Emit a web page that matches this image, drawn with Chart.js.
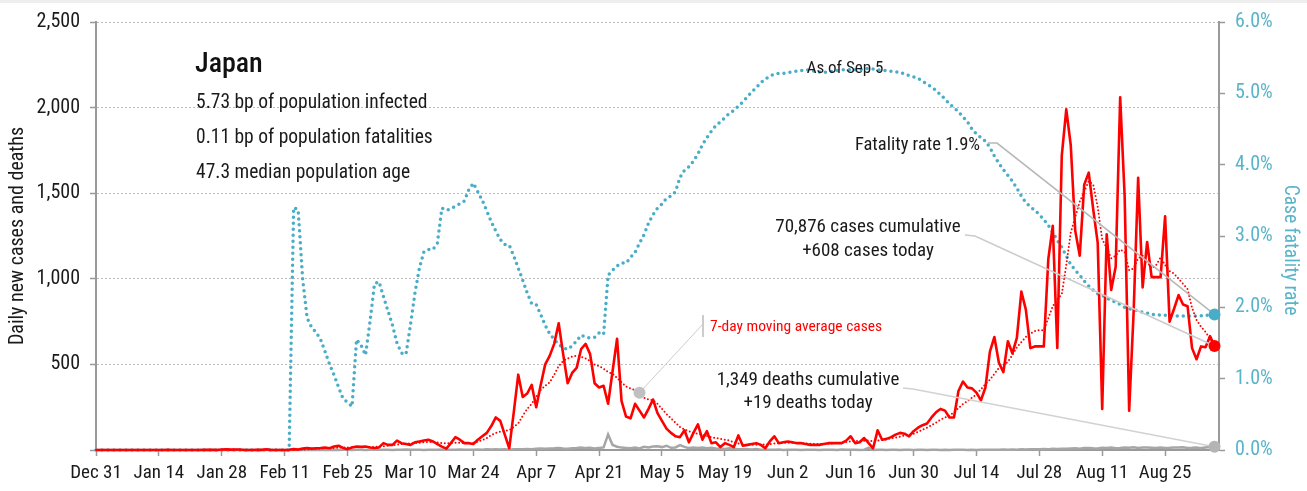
<!DOCTYPE html>
<html><head><meta charset="utf-8">
<script src="https://cdn.jsdelivr.net/npm/chart.js@4/dist/chart.umd.min.js"></script>
<style>
html,body{margin:0;padding:0;background:#fff;}
#wrap{position:relative;width:1307px;height:491px;}
#strip{position:absolute;left:0;top:0;width:1307px;height:3px;background:#eeeeee;}
canvas{display:block;}
</style></head><body>
<div id="wrap"><canvas id="c" width="1307" height="491"></canvas><div id="strip"></div></div>
<script>
// ---- DATA (day 0 = Dec 31, last = Sep 5) ----
const xTickLabels = ['Dec 31','Jan 14','Jan 28','Feb 11','Feb 25','Mar 10','Mar 24','Apr 7','Apr 21','May 5','May 19','Jun 2','Jun 16','Jun 30','Jul 14','Jul 28','Aug 11','Aug 25'];

const dailyCases = [
0,0,0,0,0,0,0,0,0,0,
0,0,0,0,0,0,1,0,0,0,
0,0,0,0,1,1,1,0,3,4,
2,3,3,0,0,0,1,1,4,0,
0,0,0,1,5,3,8,12,8,10,
12,15,10,20,25,12,5,15,20,18,
20,15,12,15,40,30,30,55,40,35,
30,45,50,55,60,50,35,20,8,40,
75,60,40,40,35,60,80,100,140,190,
170,90,10,220,440,310,330,380,250,380,
500,550,620,740,560,390,450,480,590,620,
560,390,365,375,270,460,650,285,195,185,
270,230,190,240,295,215,170,125,100,80,
75,115,45,100,150,60,110,40,45,17,
40,30,17,85,25,30,35,40,30,10,
50,80,40,45,50,45,40,40,35,30,
30,30,35,40,40,40,40,55,80,40,
45,70,40,10,115,60,65,75,90,100,
95,80,110,130,145,155,190,220,240,230,
190,190,345,400,365,360,335,290,365,575,
660,510,455,635,565,655,925,820,595,605,
605,605,1115,1310,596,1720,1990,1780,1280,1135,
1550,1620,1405,1210,240,1260,935,1070,2060,1480,
230,810,1590,950,1215,1010,1010,1010,1365,750,
825,905,850,840,595,530,605,600,665,608];

const movingAvgCases = [
0,0,0,0,0,0,0,0,0,0,
0,0,0,0,0,0,0,0,0,0,
0,0,0,0,0,0,1,1,1,1,
2,2,2,2,2,2,2,2,2,1,
1,1,1,1,2,2,3,4,5,6,
8,10,11,12,14,15,14,15,16,16,
17,17,18,20,22,25,28,32,35,37,
38,40,42,45,47,47,44,40,38,40,
42,43,40,38,42,48,58,70,88,100,
108,112,115,135,155,200,240,270,310,350,
375,395,440,490,520,535,545,550,545,535,
520,500,490,475,455,445,420,395,370,360,
350,335,305,295,290,270,240,210,185,160,
135,120,110,100,95,88,82,75,70,65,
60,55,45,38,32,30,30,30,32,33,
35,38,40,42,42,42,42,40,38,36,
35,35,35,36,38,40,42,46,50,52,
52,54,55,52,55,58,62,68,72,78,
85,88,95,105,118,130,145,160,178,190,
200,220,245,268,285,305,325,355,385,410,
445,480,495,515,555,600,630,660,680,695,
700,700,770,840,880,910,1080,1270,1360,1450,
1510,1570,1550,1420,1230,1180,1120,1135,1170,1155,
1050,1060,1120,1135,1100,1060,1080,1125,1080,1045,
1030,1000,970,940,830,760,720,690,650,618];

const dailyDeaths = [
0,0,0,0,0,0,0,0,0,0,
0,0,0,0,0,0,0,0,0,0,
0,0,0,0,0,0,0,0,0,0,
0,0,0,0,0,0,0,0,0,0,
0,0,0,0,1,0,0,0,0,0,
1,0,0,1,0,1,1,0,1,1,
0,1,2,1,1,2,0,1,2,3,
1,2,1,0,2,1,2,3,1,1,
2,3,1,2,1,3,2,5,3,4,
3,5,2,4,4,5,6,4,7,9,
8,9,10,12,9,7,10,12,15,11,
13,9,12,15,91,29,19,14,12,10,
14,9,19,15,20,22,17,25,13,15,
28,18,11,14,12,15,10,13,9,8,
6,10,7,5,4,5,3,6,2,1,
1,2,3,0,1,2,1,0,2,1,
1,0,2,1,1,0,3,2,1,1,
0,2,12,0,1,1,0,2,1,0,
1,1,0,1,1,0,1,2,0,1,
0,1,2,1,0,1,0,1,2,1,
2,1,3,2,3,2,4,3,4,5,
4,6,5,7,6,8,7,9,10,8,
11,12,10,9,13,11,14,10,12,15,
13,16,12,14,15,13,11,14,12,13,
15,14,16,12,13,15,11,14,17,19];

const fatalityRatePct = [
0,0,0,0,0,0,0,0,0,0,
0,0,0,0,0,0,0,0,0,0,
0,0,0,0,0,0,0,0,0,0,
0,0,0,0,0,0,0,0,0,0,
0,0,0,0,3.40,3.37,2.40,1.85,1.72,1.65,
1.55,1.38,1.20,1.05,0.88,0.72,0.67,0.61,1.55,1.47,
1.33,1.80,2.33,2.36,2.15,1.95,1.75,1.50,1.36,1.34,
1.75,2.20,2.55,2.78,2.81,2.81,2.90,3.39,3.36,3.38,
3.42,3.45,3.49,3.65,3.74,3.62,3.50,3.35,3.20,3.07,
2.95,2.88,2.87,2.72,2.55,2.38,2.20,2.05,2.04,1.90,
1.75,1.63,1.55,1.48,1.43,1.41,1.46,1.53,1.61,1.58,
1.57,1.58,1.64,1.62,2.45,2.52,2.58,2.62,2.62,2.70,
2.77,2.90,3.02,3.18,3.30,3.39,3.45,3.53,3.56,3.62,
3.82,3.92,3.97,4.05,4.15,4.28,4.38,4.47,4.55,4.60,
4.66,4.72,4.76,4.82,4.88,4.95,5.02,5.08,5.15,5.20,
5.24,5.27,5.28,5.28,5.29,5.30,5.31,5.32,5.33,5.32,
5.31,5.30,5.29,5.30,5.31,5.32,5.33,5.33,5.33,5.33,
5.33,5.34,5.35,5.34,5.33,5.32,5.32,5.31,5.30,5.30,
5.27,5.25,5.23,5.21,5.17,5.13,5.09,5.04,4.98,4.92,
4.85,4.80,4.74,4.67,4.60,4.50,4.43,4.38,4.33,4.24,
4.12,4.02,3.93,3.85,3.77,3.67,3.56,3.47,3.41,3.36,
3.30,3.23,3.15,3.05,2.94,2.84,2.72,2.60,2.52,2.45,
2.37,2.30,2.24,2.19,2.17,2.13,2.10,2.07,2.04,2.00,
1.98,1.97,1.95,1.93,1.92,1.90,1.90,1.89,1.89,1.89,
1.88,1.88,1.88,1.88,1.88,1.88,1.88,1.89,1.89,1.90];

const maMarkerDay = 121;

// ---- STYLE ----
const FONT = '"Roboto Condensed","Liberation Sans Narrow","DejaVu Sans Condensed",sans-serif';
const RED = '#ff0000', BLUE = '#4aadc7', BLUE_TXT = '#5ab4c9', GREY = '#a6a6a6', AXIS = '#9a9a9a', TXT = '#1a1a1a';

const toXY = arr => arr.map((v, i) => ({x: i, y: v}));
const lastIdx = dailyCases.length - 1;

const annot = {
  id: 'annot',
  afterDatasetsDraw(chart) {
    const {ctx, scales: {x, y, y2}} = chart;
    const P = (d, v, s) => [x.getPixelForValue(d), s.getPixelForValue(v)];
    const poly = (pts, color, w) => {
      ctx.beginPath(); ctx.strokeStyle = color; ctx.lineWidth = w; ctx.setLineDash([]);
      pts.forEach((p, i) => i ? ctx.lineTo(p[0], p[1]) : ctx.moveTo(p[0], p[1]));
      ctx.stroke();
    };
    const dot = (p, color, r) => { ctx.beginPath(); ctx.fillStyle = color; ctx.arc(p[0], p[1], r, 0, Math.PI * 2); ctx.fill(); };
    ctx.save();
    const pRate = P(lastIdx, fatalityRatePct[lastIdx], y2);
    const pCase = P(lastIdx, dailyCases[lastIdx], y);
    const pDeath = P(lastIdx, dailyDeaths[lastIdx], y);
    const pMA = P(maMarkerDay, movingAvgCases[maMarkerDay], y);
    poly([[988,143],[997,143], pRate], '#b8b8b8', 1.6);
    poly([[965,235],[975,236], pCase], '#cccccc', 1.6);
    poly([[903,388],[913,389], pDeath], '#d2d2d2', 1.6);
    poly([[703,324], pMA], '#cccccc', 1);
    poly([[703,315],[703,337]], '#cccccc', 2);
    dot(pRate, BLUE, 6);
    dot(pCase, RED, 6);
    dot(pDeath, '#b4b4b4', 6);
    dot(pMA, '#c0c0c0', 6);
    ctx.restore();
  },
  afterDraw(chart) {
    const ctx = chart.ctx;
    ctx.save();
    ctx.textBaseline = 'alphabetic';
    const t = (s, xx, yy, font, color, align) => { ctx.font = font; ctx.fillStyle = color; ctx.textAlign = align; ctx.fillText(s, xx, yy); };
    t('Japan', 195, 72, '500 28px ' + FONT, '#111', 'left');
    t('5.73 bp of population infected', 196, 108, '19.5px ' + FONT, TXT, 'left');
    t('0.11 bp of population fatalities', 196, 143, '19.5px ' + FONT, TXT, 'left');
    t('47.3 median population age', 196, 178, '19.5px ' + FONT, TXT, 'left');
    t('As of Sep 5', 845, 73, '17px ' + FONT, TXT, 'center');
    t('Fatality rate 1.9%', 980, 150, '18.5px ' + FONT, TXT, 'right');
    t('70,876 cases cumulative', 868, 232, '19px ' + FONT, TXT, 'center');
    t('+608 cases today', 868, 256, '19px ' + FONT, TXT, 'center');
    t('1,349 deaths cumulative', 808, 385, '19px ' + FONT, TXT, 'center');
    t('+19 deaths today', 808, 408, '19px ' + FONT, TXT, 'center');
    t('7-day moving average cases', 710, 331, '15.5px ' + FONT, RED, 'left');
    // right axis title
    ctx.translate(1291, 250); ctx.rotate(Math.PI / 2);
    t('Case fatality rate', 0, 6, '19.5px ' + FONT, BLUE_TXT, 'center');
    ctx.restore();
  }
};

Chart.defaults.font.family = FONT;
Chart.defaults.font.size = 19;
Chart.defaults.color = '#333';

new Chart(document.getElementById('c'), {
  type: 'line',
  data: {
    datasets: [
      { label: 'Fatality rate', data: toXY(fatalityRatePct), yAxisID: 'y2', borderColor: BLUE, borderWidth: 3.5,
        borderDash: [0, 6], borderCapStyle: 'round', pointRadius: 0, tension: 0, clip: 8, order: 4 },
      { label: 'Deaths', data: toXY(dailyDeaths), yAxisID: 'y', borderColor: GREY, borderWidth: 2.5,
        pointRadius: 0, tension: 0, clip: 8, order: 3 },
      { label: '7-day MA', data: toXY(movingAvgCases), yAxisID: 'y', borderColor: RED, borderWidth: 2,
        borderDash: [0, 3.6], borderCapStyle: 'round', pointRadius: 0, tension: 0, clip: 8, order: 2 },
      { label: 'Cases', data: toXY(dailyCases), yAxisID: 'y', borderColor: RED, borderWidth: 2.6,
        borderJoinStyle: 'round', pointRadius: 0, tension: 0, clip: 8, order: 1 }
    ]
  },
  options: {
    responsive: false, animation: false, devicePixelRatio: 1,
    layout: { padding: { top: 17, left: 0, right: 0, bottom: 0 } },
    plugins: { legend: { display: false }, tooltip: { enabled: false } },
    scales: {
      x: {
        type: 'linear', min: 0, max: 250,
        afterFit: s => { s.height = 41; },
        ticks: { stepSize: 14, includeBounds: false, autoSkip: false, maxRotation: 0, padding: 6, color: '#1a1a1a', font: { size: 19 },
          callback: v => (v % 14 === 0 && xTickLabels[v / 14]) ? xTickLabels[v / 14] : '' },
        grid: { drawOnChartArea: false, drawTicks: true, tickLength: 6, tickColor: AXIS, tickWidth: 1.5 },
        border: { display: true, color: AXIS, width: 2 }
      },
      y: {
        position: 'left', min: 0, max: 2500,
        afterFit: s => { s.width = 96; },
        ticks: { stepSize: 500, padding: 10, color: '#1a1a1a', font: { size: 20 }, callback: v => v === 0 ? '' : v.toLocaleString('en-US') },
        grid: { color: '#bdbdbd', lineWidth: 1, tickLength: 6, tickColor: AXIS, tickWidth: 1.5, tickBorderDash: [] },
        border: { display: true, color: AXIS, width: 2, dash: [2, 2] },
        title: { display: true, text: 'Daily new cases and deaths', color: '#1a1a1a', font: { size: 20 }, padding: { top: 6, bottom: 0 } }
      },
      y2: {
        position: 'right', min: 0, max: 6,
        afterFit: s => { s.width = 88; },
        ticks: { stepSize: 1, padding: 10, color: BLUE_TXT, font: { size: 20 }, callback: v => v.toFixed(1) + '%' },
        grid: { drawOnChartArea: false, tickLength: 6, tickColor: AXIS, tickWidth: 1.5 },
        border: { display: true, color: AXIS, width: 2 }
      }
    }
  },
  plugins: [annot]
});
</script></body></html>
